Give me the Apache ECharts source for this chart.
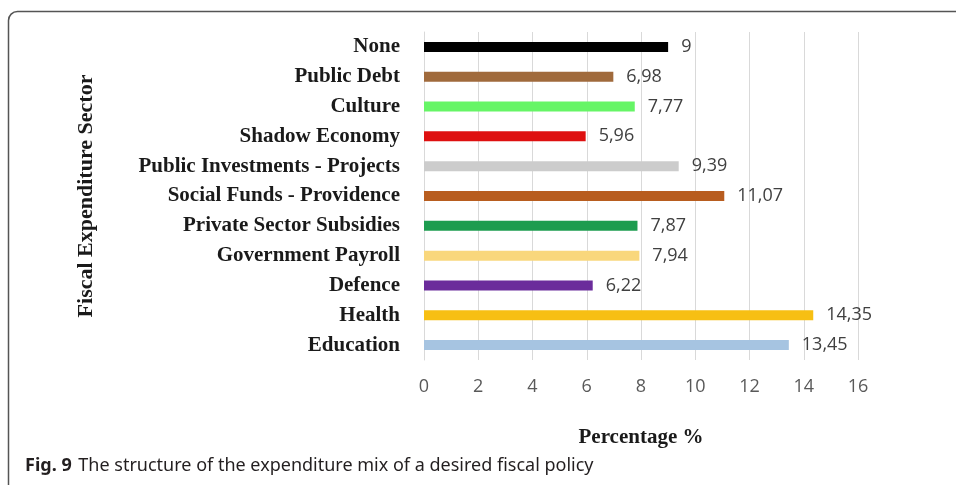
<!DOCTYPE html>
<html>
<head>
<meta charset="utf-8">
<script src="https://cdn.jsdelivr.net/npm/echarts@6/dist/echarts.min.js"></script>
<style>html,body{margin:0;padding:0;background:#fff}#c{width:956px;height:485px}</style>
</head>
<body>
<div id="c"></div>
<script>
const categories = ["Education","Health","Defence","Government Payroll","Private Sector Subsidies","Social Funds - Providence","Public Investments - Projects","Shadow Economy","Culture","Public Debt","None"];
const values = [13.45,14.35,6.22,7.94,7.87,11.07,9.39,5.96,7.77,6.98,9];
const barColors = ["#a6c4e1","#f7bf13","#6b2c9b","#f9d77c","#1d9c4f","#b85d1f","#cccccc","#de1010","#66f566","#a06a3c","#000000"];
const xTicks = [0,2,4,6,8,10,12,14,16];

const chart = echarts.init(document.getElementById('c'));
chart.setOption({
  animation:false,
  backgroundColor:'#fff',
  grid:{left:424,right:98,top:32,bottom:125,containLabel:false},
  xAxis:{
    type:'value',min:xTicks[0],max:xTicks[xTicks.length-1],interval:2,
    name:'Percentage %',nameLocation:'middle',nameGap:67,
    nameTextStyle:{fontFamily:'Liberation Serif',fontWeight:'bold',fontSize:21,color:'#1a1a1a'},
    axisLine:{show:false},axisTick:{show:false},
    axisLabel:{fontFamily:'Open Sans',fontSize:18,color:'#595959',margin:18},
    splitLine:{show:true,lineStyle:{color:'#d9d9d9',width:1}}
  },
  yAxis:{
    type:'category',data:categories,
    name:'Fiscal Expenditure Sector',nameLocation:'middle',nameRotate:90,nameGap:327,
    nameTextStyle:{fontFamily:'Liberation Serif',fontWeight:'bold',fontSize:22,color:'#1a1a1a'},
    axisLine:{show:true,lineStyle:{color:'#d9d9d9'}},axisTick:{show:false},
    axisLabel:{fontFamily:'Liberation Serif',fontWeight:'bold',fontSize:21,color:'#1a1a1a',margin:24}
  },
  series:[{
    type:'bar',barWidth:10,
    data:values.map((v,i)=>({value:v,itemStyle:{color:barColors[i]}})),
    label:{show:true,position:'right',distance:13,fontFamily:'Open Sans',fontSize:18,color:'#404040',
      formatter:p=>String(p.value).replace('.',',')}
  }],
  graphic:[
    {type:'rect',shape:{x:8.5,y:11.5,width:1000,height:600,r:9},style:{fill:null,stroke:'#555',lineWidth:1.5},silent:true},
    {type:'text',left:25,top:457,style:{
      text:'{b|Fig. 9}  {r|The structure of the expenditure mix of a desired fiscal policy}',
      rich:{b:{fontFamily:'Noto Sans',fontWeight:'bold',fontSize:18,fill:'#231f20'},r:{fontFamily:'Noto Sans',fontSize:18,fill:'#231f20'}}
    }}
  ]
});
</script>
</body>
</html>
